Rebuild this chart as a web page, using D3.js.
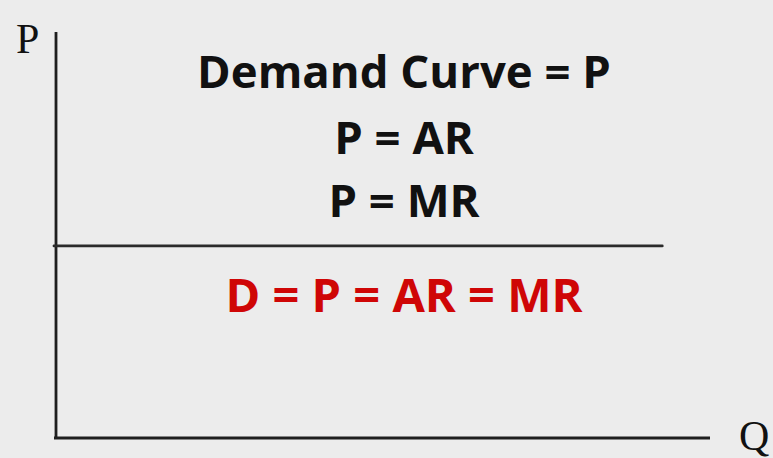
<!DOCTYPE html>
<html>
<head>
<meta charset="utf-8">
<script src="https://cdn.jsdelivr.net/npm/d3@7"></script>
<style>
  html, body { margin: 0; padding: 0; background: #ececec; }
  svg { display: block; }
</style>
</head>
<body>
<svg id="chart" width="773" height="458"></svg>
<script>
// ---- data ----
const axisLabels = ["P", "Q"];
const textLines = ["Demand Curve = P", "P = AR", "P = MR"];
const highlightLine = ["D = P = AR = MR"];
const demandPrice = [4.73];          // price level of the flat demand curve
const demandQuantity = [0, 9.27];    // extent of the demand line along Q
const textPriceLevels = [8.62, 7.0, 5.44]; // baselines of the explanatory text
const highlightPriceLevel = [3.1];

const W = 773, H = 458;
const svg = d3.select("#chart");
const x = d3.scaleLinear().domain([0, 10]).range([56, 710]);
const y = d3.scaleLinear().domain([0, 10]).range([438, 32]);

const ink = "#1e1e1e";

// axes
svg.append("line").attr("x1", x(0)).attr("x2", x(0)).attr("y1", y(10)).attr("y2", y(0) + 1)
  .attr("stroke", ink).attr("stroke-width", 2.8);
svg.append("line").attr("x1", x(0) - 2).attr("x2", x(10)).attr("y1", y(0)).attr("y2", y(0))
  .attr("stroke", ink).attr("stroke-width", 2.8);

// demand line
svg.selectAll("line.demand").data(demandPrice).enter().append("line")
  .attr("class", "demand")
  .attr("x1", x(demandQuantity[0]) - 2).attr("x2", x(demandQuantity[1]))
  .attr("y1", d => y(d)).attr("y2", d => y(d))
  .attr("stroke", "#2a2a2a").attr("stroke-width", 2.8).attr("stroke-linecap", "round");

// axis labels
svg.append("text").text(axisLabels[0]).attr("x", 16).attr("y", 53)
  .attr("font-family", "Liberation Serif, serif").attr("font-size", 42).attr("fill", "#111");
svg.append("text").text(axisLabels[1]).attr("x", 739).attr("y", 450)
  .attr("font-family", "Liberation Serif, serif").attr("font-size", 42).attr("fill", "#111");

const cx = 404;
svg.selectAll("text.line").data(textLines).enter().append("text")
  .attr("class", "line")
  .attr("x", cx).attr("y", (d, i) => y(textPriceLevels[i]))
  .attr("text-anchor", "middle")
  .attr("font-family", "Open Sans, sans-serif").attr("font-weight", 700).attr("font-size", 45.5)
  .attr("fill", "#111").text(d => d);

svg.selectAll("text.hl").data(highlightLine).enter().append("text")
  .attr("class", "hl")
  .attr("x", cx).attr("y", (d, i) => y(highlightPriceLevel[i]))
  .attr("text-anchor", "middle")
  .attr("font-family", "Open Sans, sans-serif").attr("font-weight", 700).attr("font-size", 47)
  .attr("fill", "#cf0606").text(d => d);
</script>
</body>
</html>
